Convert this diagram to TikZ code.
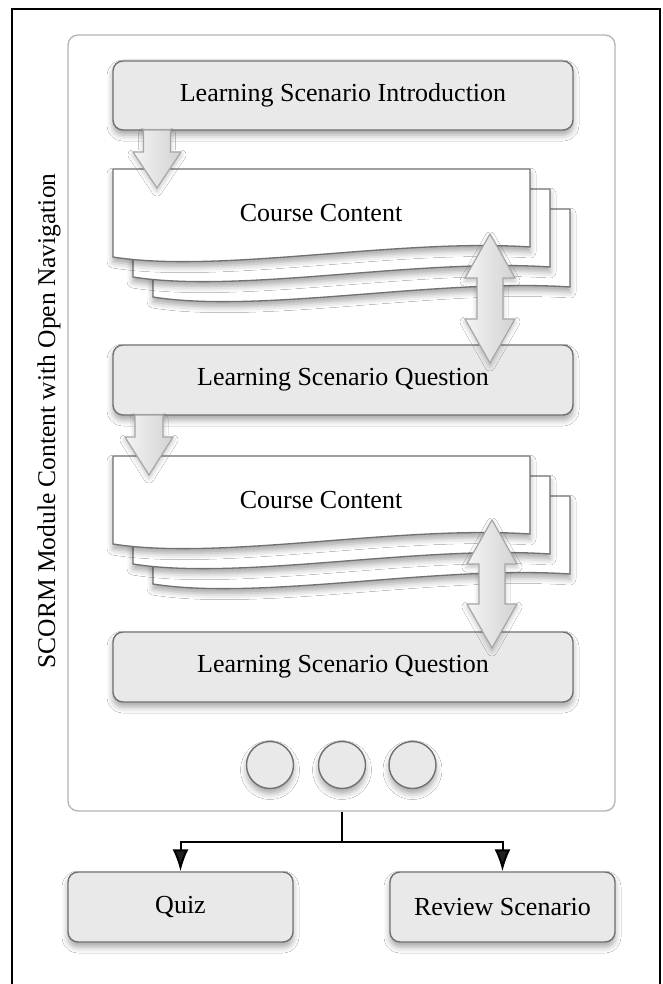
\documentclass[tikz,border=0pt]{standalone}
\usepackage{fontspec}
\setmainfont{Liberation Serif}
\usetikzlibrary{arrows.meta,shadows.blur}
\definecolor{boxfill}{HTML}{E9E9E9}
\definecolor{boxline}{HTML}{707070}
\definecolor{contline}{HTML}{B4B4B4}
\definecolor{arrline}{HTML}{A6A6A6}
\definecolor{arrlight}{HTML}{F4F4F4}
\definecolor{arrdark}{HTML}{D2D2D2}
\tikzset{
  shad/.style={blur shadow={shadow xshift=0pt,shadow yshift=-5pt,shadow blur radius=6pt,shadow opacity=35}},
  lightshad/.style={blur shadow={shadow xshift=0pt,shadow yshift=-3pt,shadow blur radius=5pt,shadow opacity=25}},
  txt/.style={font=\fontsize{26}{31}\selectfont},
  stepbox/.style={draw=boxline,fill=boxfill,line width=1.4pt,rounded corners=10pt,shad,minimum height=69pt,inner sep=0pt,txt},
  sheetline/.style={draw=boxline,fill=white,line width=1.3pt,shad},
  blockarrow/.style={draw=arrline,line width=1.2pt,left color=arrlight,right color=arrdark,lightshad},
  dot/.style={circle,draw=boxline,fill=boxfill,line width=1.4pt,minimum size=47pt,inner sep=0pt,shad},
  conn/.style={line width=2pt,-{Latex[length=22pt,width=16pt]}},
  docsheet/.pic={\path[sheetline] (0,0) -- (417,0) -- (417,78) .. controls (286,69) and (107,105) .. (0,88) -- cycle;}
}
\begin{document}
\begin{tikzpicture}[x=1pt,y=-1pt]
\useasboundingbox (0,0) rectangle (662,984);
\fill[white] (0,0) rectangle (662,984);
\draw[line width=1.5pt] (12,9) rectangle (660,1000);

% container
\node (module) [draw=contline,line width=1.3pt,rounded corners=10pt,minimum width=547pt,minimum height=776pt,inner sep=0pt] at (341.5,423) {};
\node (lbl) [rotate=90,font=\fontsize{25.5}{30}\selectfont] at (49,421) {SCORM Module Content with Open Navigation};

% boxes
\node (intro) [stepbox,minimum width=460pt] at (343,95.5) {Learning Scenario Introduction};
\node (lsq1) [stepbox,minimum width=460pt,minimum height=70pt] at (343,380) {Learning Scenario Question};
\node (lsq2) [stepbox,minimum width=460pt,minimum height=70pt] at (343,667) {Learning Scenario Question};

% course content stack 1
\pic at (153,209) {docsheet};
\pic at (133,189) {docsheet};
\pic at (113,169) {docsheet};
\node (cc1) [txt] at (321,213) {Course Content};

% course content stack 2
\pic at (153,496) {docsheet};
\pic at (133,476) {docsheet};
\pic at (113,456) {docsheet};
\node (cc2) [txt] at (321,500) {Course Content};

% down block arrows
\coordinate (a1) at (157,130);
\path[blockarrow] (a1) ++(-13.5,0) -- ++(27,0) -- ++(0,22) -- ++(10.5,0) -- ++(-24,36) -- ++(-24,-36) -- ++(10.5,0) -- cycle;
\coordinate (a2) at (149,415);
\path[blockarrow] (a2) ++(-14,0) -- ++(28,0) -- ++(0,22) -- ++(10,0) -- ++(-24,38) -- ++(-24,-38) -- ++(10,0) -- cycle;

% double block arrows
\coordinate (d1) at (490,234);
\path[blockarrow] (d1) -- ++(25,44) -- ++(-12,0) -- ++(0,41) -- ++(12,0) -- ++(-25,44) -- ++(-25,-44) -- ++(12,0) -- ++(0,-41) -- ++(-12,0) -- cycle;
\coordinate (d2) at (492,520);
\path[blockarrow] (d2) -- ++(25,44) -- ++(-12,0) -- ++(0,40) -- ++(12,0) -- ++(-25,44) -- ++(-25,-44) -- ++(12,0) -- ++(0,-40) -- ++(-12,0) -- cycle;

% navigation dots
\node (n1) [dot] at (270,765) {};
\node (n2) [dot] at (342,765) {};
\node (n3) [dot] at (412.5,765) {};

% outcomes
\node (quiz) [stepbox,minimum width=225pt,minimum height=70pt] at (180.5,907) {Quiz};
\node (review) [stepbox,minimum width=225pt,minimum height=70pt] at (502.5,907) {Review Scenario};

\draw[line width=2pt] (module.south) -- ++(0,30) coordinate (br);
\draw[conn] (br) -| (quiz.north);
\draw[conn] (br) -| (review.north);
\end{tikzpicture}
\end{document}
